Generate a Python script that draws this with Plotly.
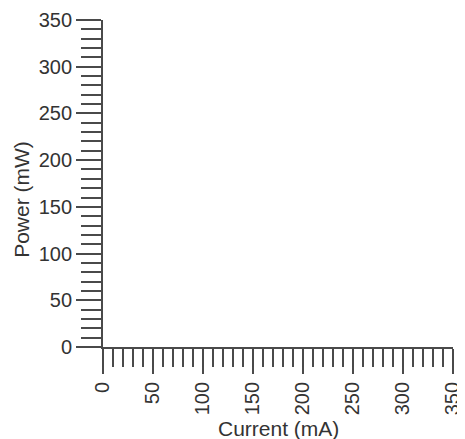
import plotly.graph_objects as go

x_ticks = [0, 50, 100, 150, 200, 250, 300, 350]
y_ticks = [0, 50, 100, 150, 200, 250, 300, 350]
x_title = "Current (mA)"
y_title = "Power (mW)"

fig = go.Figure()
fig.add_trace(go.Scatter(x=[], y=[], mode="lines", showlegend=False))

axis_color = "#4a4a4a"
text_color = "#333333"
family = "Liberation Sans, Arial, sans-serif"

# page body has an 8px default margin; figure sized/offset to compensate
fig.update_layout(
    width=457, height=431,
    margin=dict(l=95, r=12, t=12, b=92),
    paper_bgcolor="white", plot_bgcolor="white",
    font=dict(family=family, size=20, color=text_color),
    showlegend=False,
)
fig.update_xaxes(
    range=[x_ticks[0], x_ticks[-1]],
    tickmode="array", tickvals=x_ticks, ticktext=[str(v) for v in x_ticks],
    tickangle=-90,
    ticks="outside", ticklen=25, tickwidth=1.5, tickcolor=axis_color,
    minor=dict(dtick=10, ticks="outside", ticklen=18, tickwidth=1.5, tickcolor=axis_color, showgrid=False),
    showline=True, linecolor=axis_color, linewidth=1.8,
    showgrid=False, zeroline=False, automargin=False,
    tickfont=dict(size=20),
)
fig.update_yaxes(
    range=[y_ticks[0], y_ticks[-1]],
    tickmode="array", tickvals=y_ticks, ticktext=[str(v) for v in y_ticks],
    ticks="outside", ticklen=25, tickwidth=1.5, tickcolor=axis_color,
    minor=dict(dtick=10, ticks="outside", ticklen=20, tickwidth=1.5, tickcolor=axis_color, showgrid=False),
    showline=True, linecolor=axis_color, linewidth=1.8,
    showgrid=False, zeroline=False, automargin=False,
    tickfont=dict(size=20),
)

fig.add_annotation(
    text=x_title, xref="paper", yref="paper", x=0.5, y=0,
    xanchor="center", yanchor="middle", yshift=-81, showarrow=False,
    font=dict(family=family, size=21, color=text_color),
)
fig.add_annotation(
    text=y_title, xref="paper", yref="paper", x=0, y=0.45,
    xanchor="center", yanchor="middle", xshift=-81, textangle=-90, showarrow=False,
    font=dict(family=family, size=21, color=text_color),
)

fig.write_html("out.html")
